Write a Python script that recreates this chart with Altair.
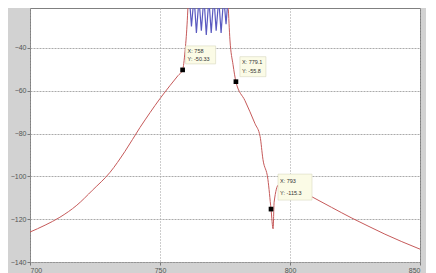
import altair as alt
import pandas as pd

# ---- data ----
red_x = [700, 705.8, 711.5, 718.0, 724.0, 730.8, 736.5, 742.3, 746.2, 750.0, 753.8, 756.9, 758.7,
         759.6, 760.4, 760.8, 761.5, 775.5, 776.2, 776.9, 778.1, 779.2, 782.7, 786.5, 788.5,
         789.6, 791.5, 792.7, 793.5, 793.9, 795.6, 800.0, 803.1, 808.8, 816.0, 823.8, 830.0,
         836.5, 843.0, 850.0]
red_y = [-126.0, -122.8, -119.1, -113.5, -106.5, -98.1, -88.4, -77.2, -70.2, -63.7, -57.7, -53.0, -50.3,
         -41.9, -29.3, -20.0, -5.0, -5.0, -20.0, -36.3, -47.9, -55.8, -64.7, -75.3, -81.4,
         -92.1, -101.4, -115.3, -124.5, -112.0, -104.0, -104.5, -106.0, -109.8, -114.5, -119.5, -123.2,
         -127.0, -130.5, -134.0]

blue_x = [761.2, 762.1, 763.1, 764.0, 765.0, 765.9, 766.9, 767.8, 768.8, 769.7, 770.7, 771.6,
          772.6, 773.5, 774.5, 775.4, 776.3]
blue_y = [-15, -30, -16, -33, -17, -32, -16, -34, -17, -33, -16, -32, -17, -33, -16, -29, -15]

marker_x = [758.7, 779.2, 792.7]
marker_y = [-50.3, -55.8, -115.3]
marker_lx = ["X: 758", "X: 779.1", "X: 793"]
marker_ly = ["Y: -50.33", "Y: -55.8", "Y: -115.3"]

x_ticks = [700, 750, 800, 850]
y_ticks = [-40, -60, -80, -100, -120, -140]

red = pd.DataFrame({"x": red_x, "y": red_y, "i": range(len(red_x))})
blue = pd.DataFrame({"x": blue_x, "y": blue_y, "i": range(len(blue_x))})
marks = pd.DataFrame({"x": marker_x, "y": marker_y, "lx": marker_lx, "ly": marker_ly})

xs = alt.Scale(domain=[700, 850], nice=False, zero=False)
ys = alt.Scale(domain=[-140, -21.4], nice=False, zero=False)

xax = alt.Axis(values=x_ticks, title=None, grid=True, gridDash=[1, 2], gridColor="#9a9a9a",
               labelFontSize=7, labelColor="#555", tickColor="#777", tickSize=3, labelPadding=1,
               domain=False, labelFont="Liberation Sans")
yax = alt.Axis(values=y_ticks, title=None, grid=True, gridDash=[2, 1], gridColor="#aaaaaa",
               labelFontSize=7, labelColor="#555", tickColor="#777", tickSize=3, labelPadding=1,
               domain=False, labelFont="Liberation Sans")

base_x = alt.X("x:Q", scale=xs, axis=xax)
base_y = alt.Y("y:Q", scale=ys, axis=yax)

red_line = alt.Chart(red).mark_line(color="#c65a5a", strokeWidth=1, clip=True,
                                    interpolate="monotone").encode(
    x=base_x, y=base_y, order="i:Q")
blue_line = alt.Chart(blue).mark_line(color="#5a5ac0", strokeWidth=1.2, clip=True).encode(
    x=alt.X("x:Q", scale=xs), y=alt.Y("y:Q", scale=ys), order="i:Q")

# data-tip boxes (pixel offsets relative to each marker)
offsets = [(3, 33, -24, -6), (4, 30, -25, -5), (7, 41, -35, -9)]
tips = []
for k, (a, b, c, d) in enumerate(offsets):
    sub = marks.iloc[[k]]
    box = alt.Chart(sub).mark_rect(fill="#fbfbe6", stroke="#d8d8c0", strokeWidth=0.6,
                                   xOffset=a, x2Offset=b, yOffset=c, y2Offset=d).encode(
        x=alt.X("x:Q", scale=xs), x2="x:Q", y=alt.Y("y:Q", scale=ys), y2="y:Q")
    t1 = alt.Chart(sub).mark_text(align="left", baseline="middle", fontSize=5.5, color="#333",
                                  dx=a + 2, dy=c + (d - c) * 0.28, font="Liberation Sans").encode(
        x=alt.X("x:Q", scale=xs), y=alt.Y("y:Q", scale=ys), text="lx:N")
    t2 = alt.Chart(sub).mark_text(align="left", baseline="middle", fontSize=5.5, color="#333",
                                  dx=a + 2, dy=c + (d - c) * 0.72, font="Liberation Sans").encode(
        x=alt.X("x:Q", scale=xs), y=alt.Y("y:Q", scale=ys), text="ly:N")
    tips += [box, t1, t2]

pts = alt.Chart(marks).mark_square(size=22, color="black", opacity=1, filled=True).encode(
    x=alt.X("x:Q", scale=xs), y=alt.Y("y:Q", scale=ys))

chart = alt.layer(red_line, blue_line, *tips, pts).properties(
    width=390, height=254,
    autosize=alt.AutoSizeParams(type="none"),
    padding={"left": 22, "top": 0, "right": 6, "bottom": 11},
    background="#d2d2d2",
).configure_view(fill="white", stroke="#808080", strokeWidth=1)

chart.save("out.html", embed_options={"renderer": "svg", "actions": False})
